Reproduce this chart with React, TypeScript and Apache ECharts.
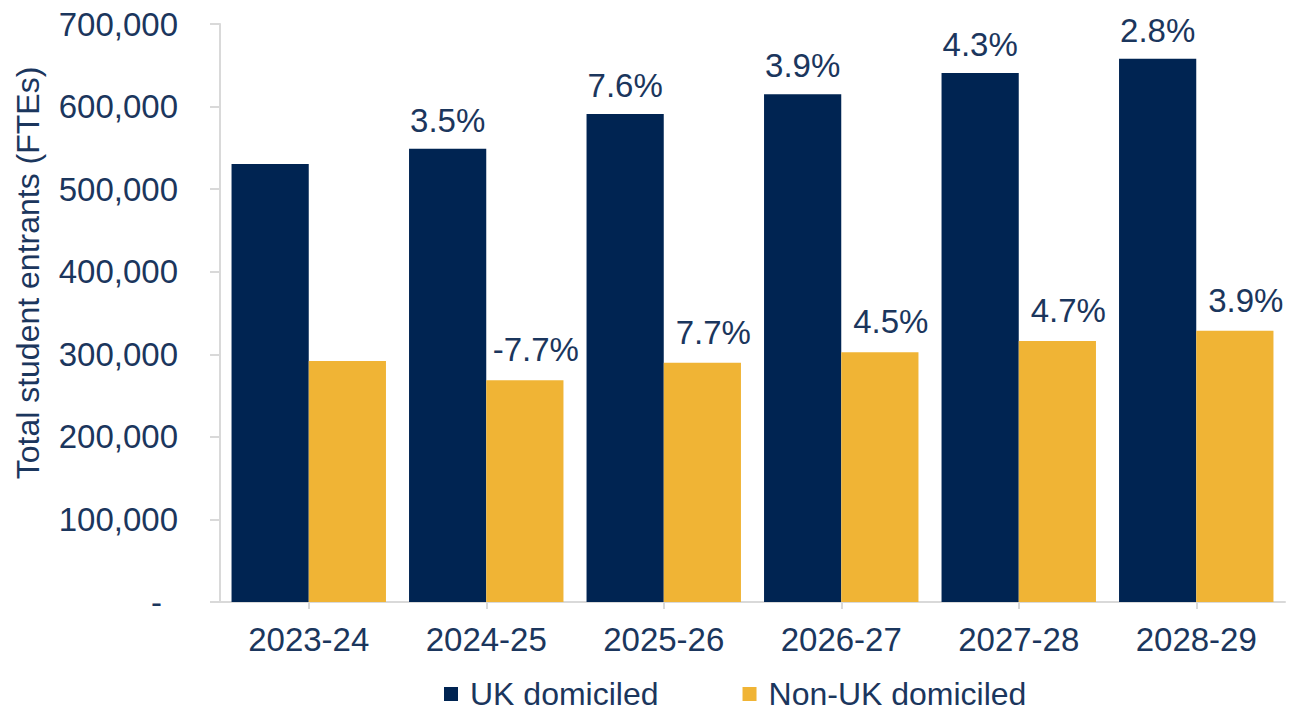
import React, { useEffect, useRef } from "react";
import * as echarts from "echarts";

const categories = ["2023-24", "2024-25", "2025-26", "2026-27", "2027-28", "2028-29"];
const ukValues = [530500, 549000, 591000, 614900, 640700, 658000];
const nonUkValues = [291900, 268500, 289800, 302400, 316100, 328600];
const ukLabels = ["", "3.5%", "7.6%", "3.9%", "4.3%", "2.8%"];
const nonUkLabels = ["", "-7.7%", "7.7%", "4.5%", "4.7%", "3.9%"];
const yTicks = { min: 0, max: 700000, interval: 100000 };
const yTitle = "Total student entrants (FTEs)";

const NAVY = "#002452";
const GOLD = "#F0B435";
const TEXT = "#1B365D";
const AXIS = "#D9D9D9";
const FONT = "'Liberation Sans', Arial, sans-serif";
const FS = 33;

export default function App() {
  const ref = useRef<HTMLDivElement>(null);
  useEffect(() => {
    document.body.style.margin = "0";
    const chart = echarts.init(ref.current!, null, { renderer: "svg" });
    chart.setOption({
      animation: false,
      textStyle: { fontFamily: FONT, color: TEXT },
      grid: { left: 220, right: 11, top: 24, bottom: 109, containLabel: false },
      legend: {
        left: 439,
        top: 672,
        icon: "rect",
        itemWidth: 14,
        itemHeight: 14,
        itemGap: 84,
        textStyle: { fontSize: 32, lineHeight: 34, color: TEXT, fontFamily: FONT, padding: [0, 0, 0, 7] },
        data: ["UK domiciled", "Non-UK domiciled"],
      },
      graphic: [
        {
          type: "text",
          x: 28,
          y: 273,
          rotation: Math.PI / 2,
          style: {
            text: yTitle,
            fontSize: 32,
            fontFamily: FONT,
            fill: TEXT,
            align: "center",
            verticalAlign: "middle",
          },
        },
      ],
      xAxis: {
        type: "category",
        data: categories,
        axisLine: { show: true, lineStyle: { color: AXIS, width: 2 } },
        axisTick: { show: true, alignWithLabel: true, length: 7, lineStyle: { color: AXIS, width: 2 } },
        axisLabel: { fontSize: FS, color: TEXT, fontFamily: FONT, margin: 21 },
      },
      yAxis: {
        type: "value",
        min: yTicks.min,
        max: yTicks.max,
        interval: yTicks.interval,
        splitLine: { show: false },
        axisLine: { show: true, lineStyle: { color: AXIS, width: 2 } },
        axisTick: { show: true, length: 10, lineStyle: { color: AXIS, width: 2 } },
        axisLabel: {
          fontSize: FS,
          color: TEXT,
          fontFamily: FONT,
          margin: 42,
          formatter: (v: number) => (v === 0 ? "{d|-}" : v.toLocaleString("en-US")),
          rich: { d: { fontSize: FS, color: TEXT, fontFamily: FONT, padding: [0, 16, 0, 0] } },
        },
      },
      series: [
        {
          name: "UK domiciled",
          type: "bar",
          data: ukValues,
          barGap: "0%",
          barCategoryGap: "13%",
          itemStyle: { color: NAVY },
          label: {
            show: true,
            position: "top",
            distance: 12,
            fontSize: FS,
            color: TEXT,
            fontFamily: FONT,
            formatter: (p: any) => ukLabels[p.dataIndex],
          },
        },
        {
          name: "Non-UK domiciled",
          type: "bar",
          data: nonUkValues,
          barGap: "0%",
          barCategoryGap: "13%",
          itemStyle: { color: GOLD },
          label: {
            show: true,
            position: "top",
            distance: 14,
            offset: [11, 0],
            fontSize: FS,
            color: TEXT,
            fontFamily: FONT,
            formatter: (p: any) => nonUkLabels[p.dataIndex],
          },
        },
      ],
    });
    return () => chart.dispose();
  }, []);
  return <div ref={ref} style={{ width: 1296, height: 711 }} />;
}
